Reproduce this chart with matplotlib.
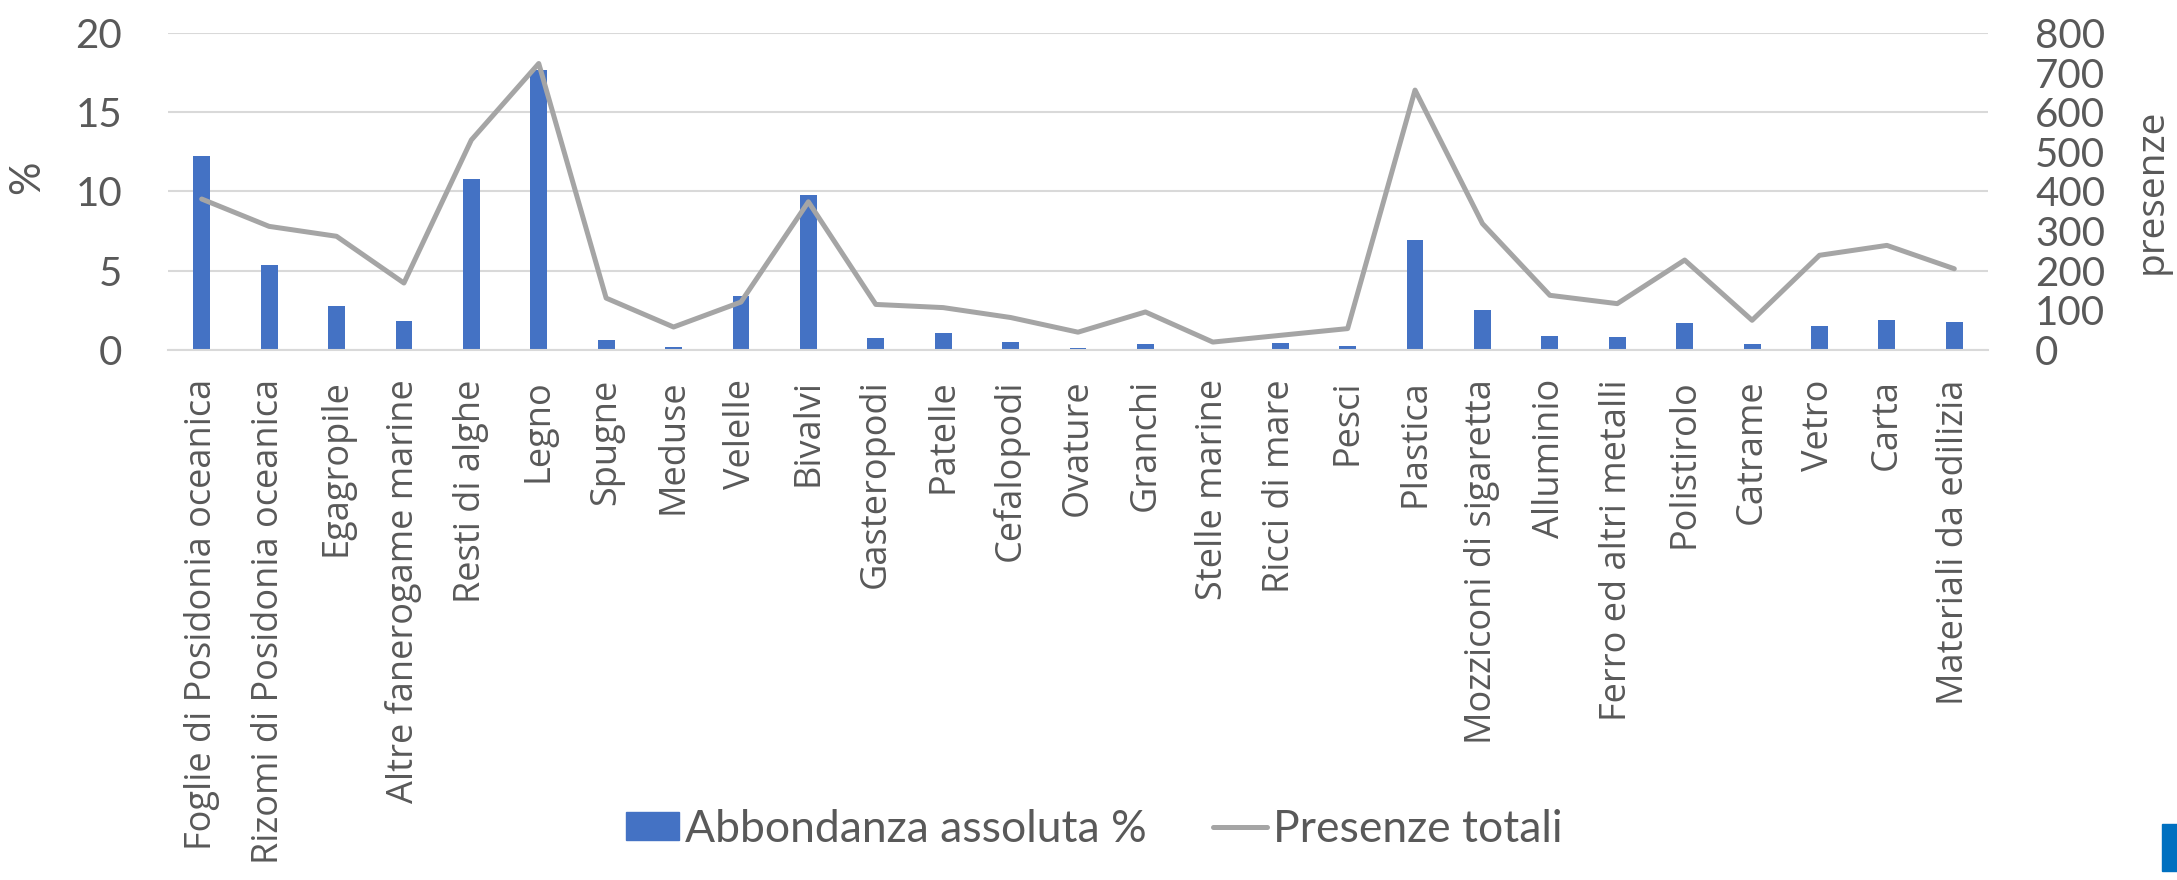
import matplotlib
matplotlib.use("Agg")
import matplotlib.pyplot as plt
import numpy as np
from matplotlib.patches import Rectangle
from matplotlib.lines import Line2D

categories = [
    "Foglie di Posidonia oceanica", "Rizomi di Posidonia oceanica", "Egagropile",
    "Altre fanerogame marine", "Resti di alghe", "Legno", "Spugne", "Meduse",
    "Velelle", "Bivalvi", "Gasteropodi", "Patelle", "Cefalopodi", "Ovature",
    "Granchi", "Stelle marine", "Ricci di mare", "Pesci", "Plastica",
    "Mozziconi di sigaretta", "Alluminio", "Ferro ed altri metalli",
    "Polistirolo", "Catrame", "Vetro", "Carta", "Materiali da edilizia",
]
abbondanza = [12.23, 5.39, 2.76, 1.83, 10.76, 17.68, 0.65, 0.21, 3.39, 9.75,
              0.78, 1.07, 0.51, 0.15, 0.38, 0.06, 0.42, 0.25, 6.91, 2.53,
              0.86, 0.82, 1.71, 0.38, 1.52, 1.87, 1.79]
presenze = [381, 312, 287, 169, 530, 723, 131, 58, 121, 374,
            115, 107, 82, 45, 96, 20, 37, 54, 656, 319,
            138, 117, 227, 75, 239, 264, 205]
left_ticks = [0, 5, 10, 15, 20]
right_ticks = [0, 100, 200, 300, 400, 500, 600, 700, 800]

BAR = "#4472C4"
LINE = "#A5A5A5"
TXT = "#595959"
GRID = "#D9D9D9"
NUMFONT = "Lato"
LBLFONT = "Open Sans"

W, H = 2177, 880
fig = plt.figure(figsize=(W / 100, H / 100), dpi=100)
ax = fig.add_axes([168 / W, 1 - 350 / H, (1988 - 168) / W, (350 - 33) / H])
ax2 = ax.twinx()

x = np.arange(len(categories))
ax.bar(x, abbondanza, width=0.25, color=BAR, zorder=2)
ax.set_xlim(-0.5, len(categories) - 0.5)
ax.set_ylim(0, 20)
ax.set_yticks(left_ticks)
ax.set_yticklabels([str(t) for t in left_ticks], fontsize=29, family=NUMFONT, color=TXT)
ax.yaxis.grid(True, color=GRID, linewidth=1.5, zorder=0)
ax.set_axisbelow(True)
ax.set_xticks(x)
ax.set_xticklabels(categories, rotation=90, fontsize=26, family=LBLFONT, color=TXT,
                   ha="center", va="top")
ax.tick_params(axis="both", length=0)
ax.tick_params(axis="y", pad=33)
ax.tick_params(axis="x", pad=21)
for s in ["top", "left", "right"]:
    ax.spines[s].set_visible(False)
ax.spines["bottom"].set_color(GRID)
ax.spines["bottom"].set_linewidth(1.5)

ax2.plot(x, presenze, color=LINE, linewidth=3.6, solid_joinstyle="round",
         solid_capstyle="round", zorder=3)
ax2.set_ylim(0, 800)
ax2.set_yticks(right_ticks)
ax2.set_yticklabels([str(t) for t in right_ticks], fontsize=29, family=NUMFONT, color=TXT)
ax2.tick_params(axis="y", length=0, pad=34)
for s in ["top", "left", "right", "bottom"]:
    ax2.spines[s].set_visible(False)

fig.text(27 / W, 1 - 177 / H, "%", rotation=90, fontsize=30, family=NUMFONT,
         color=TXT, ha="center", va="center")
fig.text(2152 / W, 1 - 191 / H, "presenze", rotation=90, fontsize=28, family=LBLFONT,
         color=TXT, ha="center", va="center")

# legend
handles = [Rectangle((0, 0), 1, 1, color=BAR),
           Line2D([0], [0], color=LINE, linewidth=3.6, solid_capstyle="round")]
leg = fig.legend(handles, ["Abbondanza assoluta %", "Presenze totali"],
                 loc="center", bbox_to_anchor=(1094 / W, 1 - 829 / H), ncol=2,
                 frameon=False, prop={"family": NUMFONT, "size": 32},
                 handlelength=1.2, handleheight=0.6, handletextpad=0.13,
                 columnspacing=1.5)
for t in leg.get_texts():
    t.set_color(TXT)

# cut-off blue logo at bottom right
fig.patches.append(Rectangle((2162 / W, 1 - 871 / H), 20 / W, 47 / H,
                             transform=fig.transFigure, color="#0070C0"))

fig.savefig("out.png", dpi=100)
